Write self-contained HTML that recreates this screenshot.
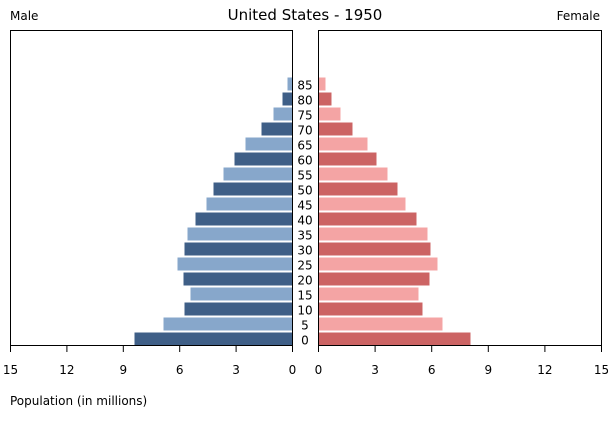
<!DOCTYPE html><html><head><style>body{margin:0;background:#fff}</style></head><body>
<svg width="610" height="425" xmlns="http://www.w3.org/2000/svg" font-family="DejaVu Sans, sans-serif">
<rect width="610" height="425" fill="#fff"/>
<text x="305" y="20" font-size="15" text-anchor="middle">United States - 1950</text>
<text x="10" y="20" font-size="12">Male</text>
<text x="600" y="20" font-size="12" text-anchor="end">Female</text>
<text x="10" y="405" font-size="12">Population (in millions)</text>
<g id="bars"></g>
<rect x="10.5" y="30.5" width="282" height="315" fill="none" stroke="#000"/>
<rect x="318.5" y="30.5" width="283" height="315" fill="none" stroke="#000"/>
<g id="ticks" stroke="#000"></g>
<g id="lab" font-size="12" text-anchor="middle"></g>
</svg>
<script>
var m=[158,129,108,102,109,115,108,105,97,86,79,69,58,47,31,19,10,5];
var f=[152,124,104,100,111,119,112,109,98,87,79,69,58,49,34,22,13,7];
var b='',l='';
for(var k=0;k<18;k++){var y=332.5-15*k;var d=k%2==0;
b+='<rect x="'+(292.5-m[k])+'" y="'+y+'" width="'+m[k]+'" height="13" fill="'+(d?'#3f5f87':'#87a7cb')+'"/>';
b+='<rect x="318.5" y="'+y+'" width="'+f[k]+'" height="13" fill="'+(d?'#cc6464':'#f4a4a4')+'"/>';
l+='<text x="305" y="'+(y+12)+'">'+(k*5)+'</text>';}
var t='';
for(var i=0;i<=5;i++){var xl=10.5+282*i/5,xr=318.5+283*i/5;
t+='<line x1="'+xl+'" y1="345" x2="'+xl+'" y2="352"/><line x1="'+xr+'" y1="345" x2="'+xr+'" y2="352"/>';
l+='<text x="'+xl+'" y="374">'+(15-3*i)+'</text><text x="'+xr+'" y="374">'+(3*i)+'</text>';}
document.getElementById('bars').innerHTML=b;
document.getElementById('ticks').innerHTML=t;
document.getElementById('lab').innerHTML=l;
</script>
</body></html>
